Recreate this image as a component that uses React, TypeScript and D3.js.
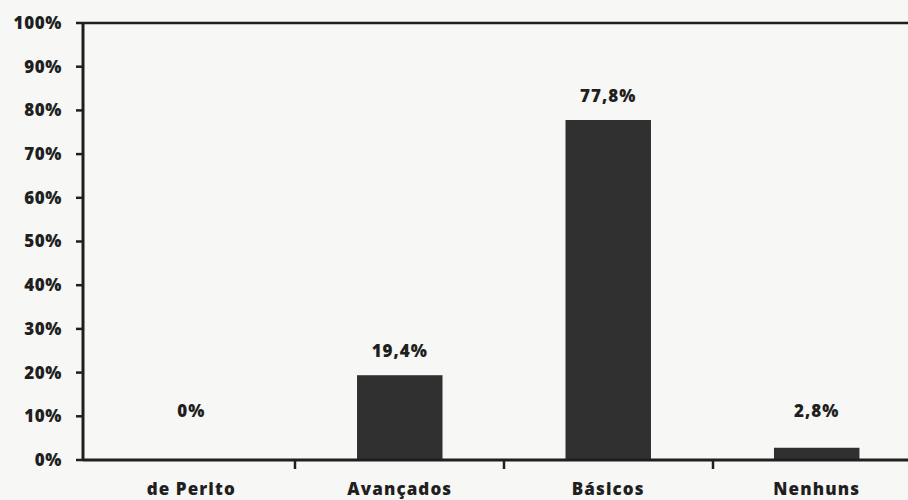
import React from "react";
import * as d3 from "d3";

const categories = ["de Perito", "Avançados", "Básicos", "Nenhuns"];
const values = [0, 19.4, 77.8, 2.8];
const valueLabels = ["0%", "19,4%", "77,8%", "2,8%"];
const yTicks = [0, 10, 20, 30, 40, 50, 60, 70, 80, 90, 100];

const W = 908;
const H = 500;
const FONT = "'Open Sans', 'DejaVu Sans', sans-serif";
const INK = "#1f1f1f";

export default function App() {
  const x = d3.scaleBand<string>().domain(categories).range([86, 922]).paddingInner(0.59).paddingOuter(0.3);
  const xb = d3.scaleBand<string>().domain(categories).range([86, 922]);
  const y = d3.scaleLinear().domain([0, 100]).range([460, 23]);
  const x0 = 83;

  return (
    <svg width={W} height={H} style={{ position: "absolute", left: 0, top: 0, background: "#f7f7f5" }}>
      <rect x={0} y={0} width={W} height={H} fill="#f7f7f5" />
      <line x1={x0} x2={W} y1={y(100)} y2={y(100)} stroke={INK} strokeWidth={2.5} />
      <line x1={x0} x2={x0} y1={y(100)} y2={y(0) + 1} stroke={INK} strokeWidth={3} />
      {yTicks.map((t) => (
        <g key={t}>
          <line x1={x0 - 7} x2={x0} y1={y(t)} y2={y(t)} stroke={INK} strokeWidth={2.5} />
          <text x={62} y={y(t)} dy="0.35em" textAnchor="end" fontFamily={FONT} fontWeight={800} fontSize={17} letterSpacing={0.6} fill={INK}>
            {t}%
          </text>
        </g>
      ))}
      {categories.map((c, i) => (
        <rect key={c} x={x(c)} y={y(values[i])} width={x.bandwidth()} height={y(0) - y(values[i])} fill="#303030" />
      ))}
      <line x1={x0} x2={W} y1={y(0)} y2={y(0)} stroke={INK} strokeWidth={3} />
      {categories.slice(1).map((c) => (
        <line key={c} x1={xb(c)} x2={xb(c)} y1={y(0)} y2={y(0) + 9} stroke={INK} strokeWidth={2.5} />
      ))}
      {categories.map((c, i) => (
        <text key={c} x={(x(c) as number) + x.bandwidth() / 2} y={Math.min(y(values[i]), 435) - 24} dy="0.35em" textAnchor="middle" fontFamily={FONT} fontWeight={800} fontSize={17} letterSpacing={1} fill={INK}>
          {valueLabels[i]}
        </text>
      ))}
      {categories.map((c) => (
        <text key={c} x={(x(c) as number) + x.bandwidth() / 2} y={489} dy="0.35em" textAnchor="middle" fontFamily={FONT} fontWeight={800} fontSize={17} letterSpacing={1.1} fill={INK}>
          {c}
        </text>
      ))}
    </svg>
  );
}
